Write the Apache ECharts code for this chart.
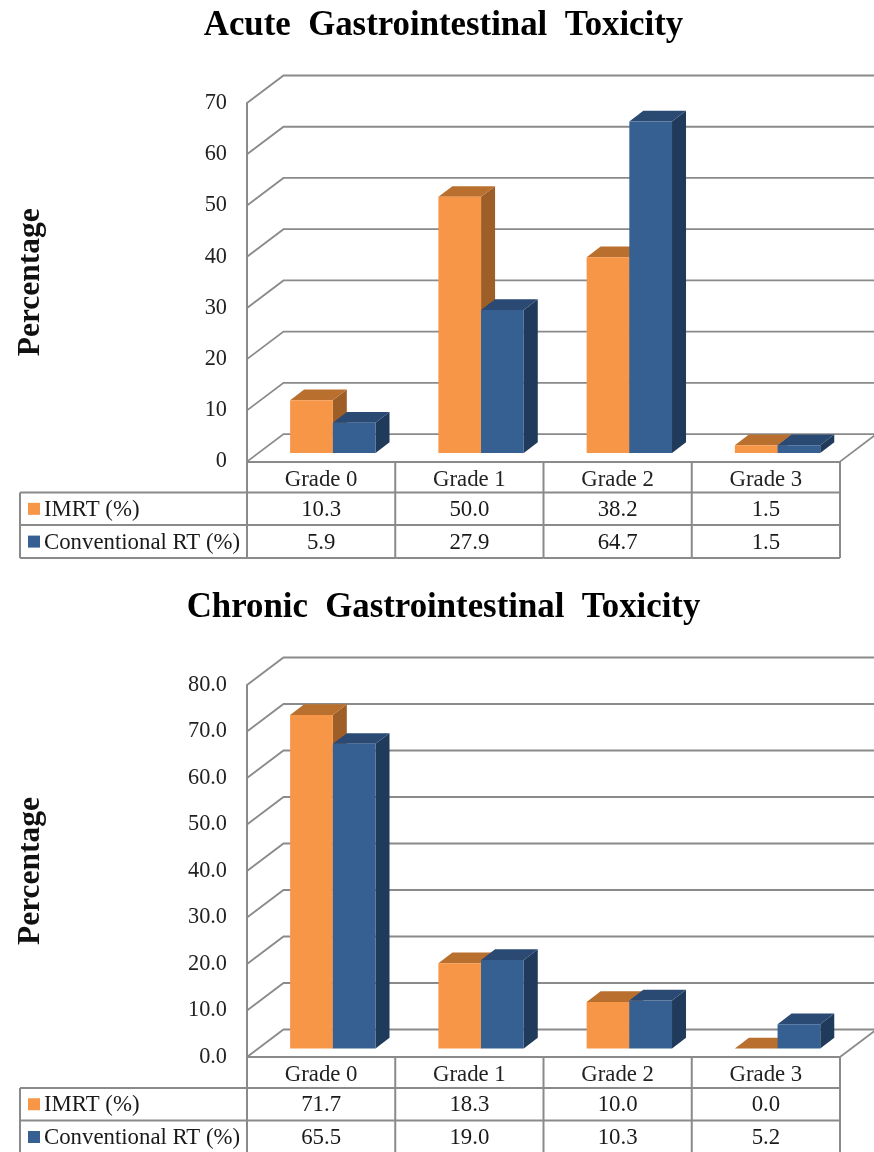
<!DOCTYPE html>
<html>
<head>
<meta charset="utf-8">
<title>Gastrointestinal Toxicity</title>
<script src="https://cdn.jsdelivr.net/npm/echarts@6/dist/echarts.min.js"></script>
<style>
    html, body { margin: 0; padding: 0; background: #fff; }
    #chart { width: 874px; height: 1152px; }
</style>
</head>
<body>
<div id="chart"></div>
<script>
const grades = ['Grade 0', 'Grade 1', 'Grade 2', 'Grade 3'];
const seriesNames = ['IMRT (%)', 'Conventional RT (%)'];

// 急性
const acuteTitle = 'Acute  Gastrointestinal  Toxicity';
const acuteImrt = [10.3, 50.0, 38.2, 1.5];
const acuteConv = [5.9, 27.9, 64.7, 1.5];
const acuteTicks = ['0', '10', '20', '30', '40', '50', '60', '70'];

// 慢性
const chronicTitle = 'Chronic  Gastrointestinal  Toxicity';
const chronicImrt = [71.7, 18.3, 10.0, 0.0];
const chronicConv = [65.5, 19.0, 10.3, 5.2];
const chronicTicks = ['0.0', '10.0', '20.0', '30.0', '40.0', '50.0', '60.0', '70.0', '80.0'];

const FONT = '"Liberation Serif", "Times New Roman", serif';
const LINE = '#8a8a8a';
const colors = [
    { front: '#f79646', top: '#b9702f', side: '#9e5e27' },
    { front: '#366092', top: '#2a4a73', side: '#203a5c' }
];
// 伪3D的偏移量
const WALL_DX = 36.5, WALL_DY = 27.5;
const BAR_DX = 11.7, BAR_DY = 8.6;
const DEPTH_DX = 14, DEPTH_DY = 10.7;
const BAR_RATE = 0.288;
const ROWS = [31, 32.5, 33];

// 背景网格线
function renderWall(params, api) {
    const band = api.size([1, 0])[0];
    const first = api.coord([0, api.value(0)]);
    const last = api.coord([grades.length - 1, api.value(0)]);
    const x0 = first[0] - band / 2;
    const x1 = last[0] + band / 2;
    const y = first[1];
    const children = [{
        type: 'polyline',
        shape: { points: [[x0, y], [x0 + WALL_DX, y - WALL_DY], [x1 + WALL_DX, y - WALL_DY]] },
        style: { stroke: LINE, lineWidth: 1.8, fill: null }
    }];
    if (params.dataIndex === 0) {
        children.push({
            type: 'line',
            shape: { x1: x1, y1: y, x2: x1 + WALL_DX, y2: y - WALL_DY },
            style: { stroke: LINE, lineWidth: 1.8 }
        });
    }
    return { type: 'group', children: children };
}

function makeBarRender(seriesIndex) {
    const c = colors[seriesIndex];
    return function (params, api) {
        const band = api.size([1, 0])[0];
        const w = band * BAR_RATE;
        const top = api.coord([api.value(0), api.value(1)]);
        const base = api.coord([api.value(0), 0]);
        const x0 = top[0] + BAR_DX - w + seriesIndex * w;
        const x1 = x0 + w;
        const y0 = top[1] - BAR_DY;
        const y1 = base[1] - BAR_DY;
        return {
            type: 'group',
            children: [
                {
                    type: 'polygon',
                    shape: { points: [[x1, y0], [x1 + DEPTH_DX, y0 - DEPTH_DY], [x1 + DEPTH_DX, y1 - DEPTH_DY], [x1, y1]] },
                    style: { fill: c.side }
                },
                {
                    type: 'polygon',
                    shape: { points: [[x0, y0], [x0 + DEPTH_DX, y0 - DEPTH_DY], [x1 + DEPTH_DX, y0 - DEPTH_DY], [x1, y0]] },
                    style: { fill: c.top }
                },
                {
                    type: 'rect',
                    shape: { x: x0, y: y0, width: w, height: y1 - y0 },
                    style: { fill: c.front }
                }
            ]
        };
    };
}

// 底部数据表
function makeTableRender(rows) {
    return function (params, api) {
        const i = params.dataIndex;
        const band = api.size([1, 0])[0];
        const c = api.coord([i, 0]);
        const left = c[0] - band / 2;
        const yTop = c[1];
        const y1 = yTop + ROWS[0];
        const y2 = y1 + ROWS[1];
        const y3 = y2 + ROWS[2];
        const line = (xa, ya, xb, yb) => ({
            type: 'line',
            shape: { x1: xa, y1: ya, x2: xb, y2: yb },
            style: { stroke: LINE, lineWidth: 2 }
        });
        const text = (x, y, str, align) => ({
            type: 'text',
            style: {
                x: x, y: y + 1, text: str, fill: '#1a1a1a',
                font: '22.8px ' + FONT,
                textAlign: align, textVerticalAlign: 'middle'
            }
        });
        const children = [
            line(left + band, yTop, left + band, y3),
            line(left, y1, left + band, y1),
            line(left, y2, left + band, y2),
            line(left, y3, left + band, y3),
            text(c[0], (y1 + y2) / 2, rows[0][i].toFixed(1), 'center'),
            text(c[0], (y2 + y3) / 2, rows[1][i].toFixed(1), 'center')
        ];
        if (i === 0) {
            const tableLeft = 20;
            children.push(
                line(left, yTop, left, y3),
                line(tableLeft, y1, tableLeft, y3),
                line(tableLeft, y1, left, y1),
                line(tableLeft, y2, left, y2),
                line(tableLeft, y3, left, y3),
                { type: 'rect', shape: { x: 28, y: (y1 + y2) / 2 - 6, width: 12, height: 12 }, style: { fill: colors[0].front } },
                { type: 'rect', shape: { x: 28, y: (y2 + y3) / 2 - 6, width: 12, height: 12 }, style: { fill: colors[1].front } },
                text(44, (y1 + y2) / 2, seriesNames[0], 'left'),
                text(44, (y2 + y3) / 2, seriesNames[1], 'left')
            );
        }
        return { type: 'group', children: children };
    };
}

function buildYAxis(ticks, index) {
    return {
        type: 'value',
        gridIndex: index,
        min: 0,
        max: (ticks.length - 1) * 10,
        interval: 10,
        name: 'Percentage',
        nameLocation: 'middle',
        nameGap: 200,
        nameRotate: 90,
        nameTextStyle: { fontFamily: FONT, fontSize: 31.5, fontWeight: 'bold', color: '#111' },
        axisLine: { show: true, lineStyle: { color: LINE, width: 2 } },
        axisTick: { show: false },
        splitLine: { show: false },
        axisLabel: {
            margin: 20,
            fontFamily: FONT,
            fontSize: 22.3,
            color: '#222',
            formatter: (v) => ticks[v / 10]
        }
    };
}

function buildXAxis(index) {
    return {
        type: 'category',
        gridIndex: index,
        data: grades,
        axisLine: { show: true, lineStyle: { color: LINE, width: 2 } },
        axisTick: { show: false },
        axisLabel: { margin: 7, fontFamily: FONT, fontSize: 22.8, color: '#222', interval: 0 }
    };
}

function buildSeries(index, ticks, imrt, conv) {
    const tickValues = ticks.map((t) => Number(t));
    const toPairs = (arr) => arr.map((v, i) => [i, v]);
    return [
        {
            type: 'custom', xAxisIndex: index, yAxisIndex: index, z: 1, silent: true,
            clip: false, renderItem: renderWall, data: tickValues.map((v) => [v]),
            encode: { y: 0 }
        },
        {
            type: 'custom', name: seriesNames[0], xAxisIndex: index, yAxisIndex: index, z: 3,
            clip: false, renderItem: makeBarRender(0), data: toPairs(imrt),
            encode: { x: 0, y: 1 }
        },
        {
            type: 'custom', name: seriesNames[1], xAxisIndex: index, yAxisIndex: index, z: 4,
            clip: false, renderItem: makeBarRender(1), data: toPairs(conv),
            encode: { x: 0, y: 1 }
        },
        {
            type: 'custom', xAxisIndex: index, yAxisIndex: index, z: 2, silent: true,
            clip: false, renderItem: makeTableRender([imrt, conv]), data: grades.map((g, i) => [i]),
            encode: { x: 0 }
        }
    ];
}

const titleStyle = { fontFamily: FONT, fontSize: 34.8, fontWeight: 'bold', color: '#000' };

const option = {
    animation: false,
    backgroundColor: '#fff',
    title: [
        { text: acuteTitle, left: 438.5, top: 4, textAlign: 'center', textStyle: titleStyle },
        { text: chronicTitle, left: 438.5, top: 586, textAlign: 'center', textStyle: titleStyle }
    ],
    grid: [
        { left: 247, width: 593, top: 103, height: 358.6 },
        { left: 247, width: 593, top: 685, height: 372 }
    ],
    xAxis: [buildXAxis(0), buildXAxis(1)],
    yAxis: [buildYAxis(acuteTicks, 0), buildYAxis(chronicTicks, 1)],
    series: [].concat(
        buildSeries(0, acuteTicks, acuteImrt, acuteConv),
        buildSeries(1, chronicTicks, chronicImrt, chronicConv)
    )
};

const chart = echarts.init(document.getElementById('chart'), null, { renderer: 'canvas' });
chart.setOption(option);
</script>
</body>
</html>
